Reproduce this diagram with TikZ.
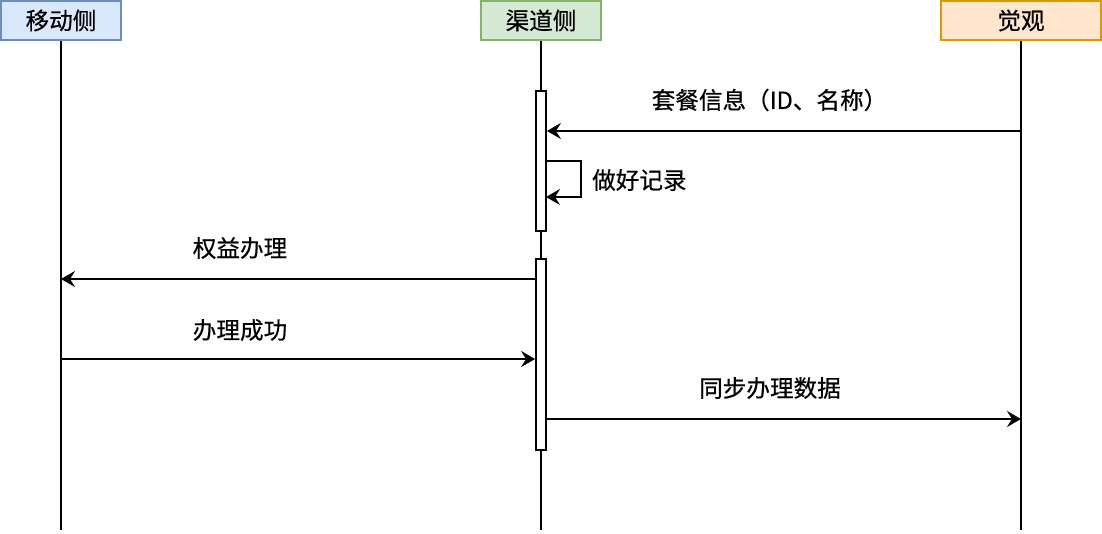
\documentclass[tikz,border=0pt]{standalone}
\usepackage{fontspec}
\newfontfamily\cjk[FakeBold=0.4]{Noto Sans CJK SC}
\usetikzlibrary{arrows.meta}
\definecolor{bluefill}{HTML}{DAE8FC}
\definecolor{blueline}{HTML}{6C8EBF}
\definecolor{greenfill}{HTML}{D5E8D4}
\definecolor{greenline}{HTML}{82B366}
\definecolor{orangefill}{HTML}{FFE6CC}
\definecolor{orangeline}{HTML}{D79B00}
\tikzset{
  head/.style={draw, line width=1.6pt, minimum height=39pt, inner sep=0pt},
  life/.style={line width=1.9pt},
  actbox/.style={draw, fill=white, line width=1.8pt, minimum width=10pt, inner sep=0pt},
  msg/.style={line width=1.9pt, -{Stealth[length=14pt,width=16pt,inset=5pt]}},
  lbl/.style={inner sep=0pt}
}
\begin{document}
\begin{tikzpicture}[x=1pt,y=-1pt,font=\cjk\fontsize{23.6}{28}\selectfont]
\useasboundingbox (0,0) rectangle (1102,534);
% headers
\node[head, fill=bluefill, draw=blueline, minimum width=120pt] (m) at (61,20.5) {移动侧};
\node[head, fill=greenfill, draw=greenline, minimum width=120pt] (q) at (541,20.5) {渠道侧};
\node[head, fill=orangefill, draw=orangeline, minimum width=160pt] (j) at (1021,20.5) {觉观};
% lifelines
\coordinate (mb) at (61,530);
\coordinate (qb) at (541,530);
\coordinate (jb) at (1021,530);
\draw[life] (m.south) -- (mb);
\draw[life] (q.south) -- (qb);
\draw[life] (j.south) -- (jb);
% activations
\node[actbox, minimum height=140pt] (a1) at (541,161) {};
\node[actbox, minimum height=191pt] (a2) at (541,354.5) {};
% message 1
\coordinate (p1) at (1021,131);
\draw[msg] (p1) -- (a1.east |- p1);
\node[lbl] (t1) at (769.5,100) {套餐信息（ID、名称）};
% self message
\coordinate (s1) at (546,161);
\coordinate (s2) at (546,197);
\draw[msg] (s1) -- ++(35,0) |- (s2);
\node[lbl, anchor=west] (t2) at (592,180) {做好记录};
% message 3
\coordinate (p3) at (61,279);
\draw[msg] (a2.west |- p3) -- (p3);
\node[lbl] (t3) at (240,248) {权益办理};
% message 4
\coordinate (p4) at (61,359);
\draw[msg] (p4) -- (a2.west |- p4);
\node[lbl] (t4) at (240,330) {办理成功};
% message 5
\coordinate (p5) at (1021,419);
\draw[msg] (a2.east |- p5) -- (p5);
\node[lbl] (t5) at (770,388) {同步办理数据};
\end{tikzpicture}
\end{document}
